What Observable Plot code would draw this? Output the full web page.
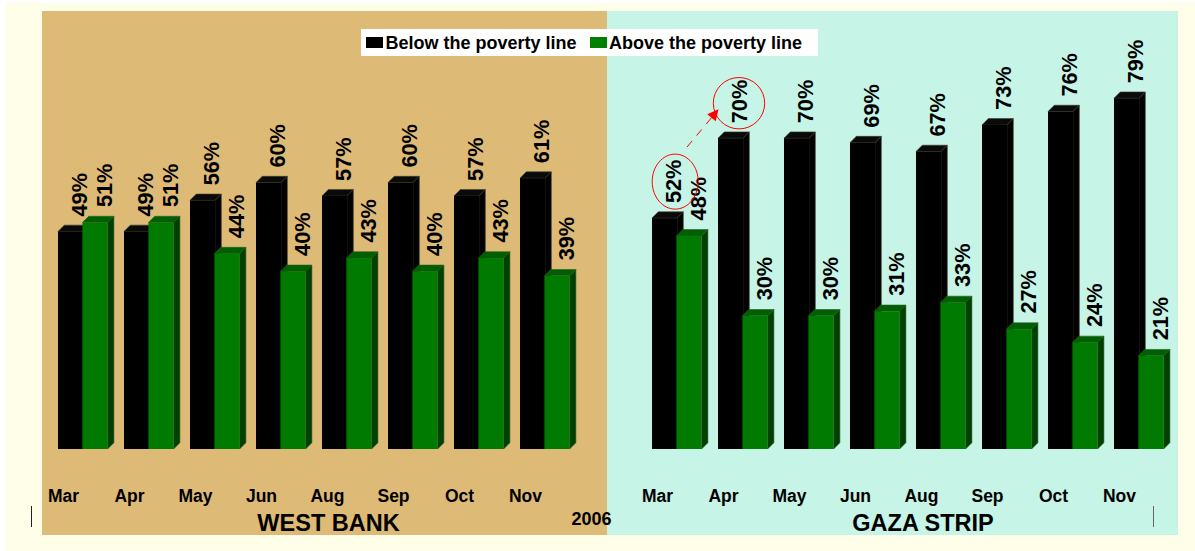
<!DOCTYPE html>
<html><head><meta charset="utf-8">
<script src="https://cdn.jsdelivr.net/npm/d3@7"></script>
<script src="https://cdn.jsdelivr.net/npm/@observablehq/plot@0.6"></script>
<style>
html,body{margin:0;padding:0;background:#fff;overflow:hidden}
#page{position:relative;width:1195px;height:551px;font-family:"Liberation Sans",Arial,sans-serif;font-weight:bold;color:#000}
#page>div{position:absolute}
#chart{left:0;top:0;width:1195px;height:551px}
.sw{width:17px;height:11px;top:8px}
.lt{top:4px;font-size:18px;line-height:21px;white-space:nowrap}
</style></head><body>
<div id="page">
<div style="left:6px;top:3px;width:1189px;height:548px;background:#FFFFE9"></div>
<div style="left:42px;top:11px;width:565px;height:524px;background:#DEBA77"></div>
<div style="left:607px;top:11px;width:571px;height:524px;background:#C6F4E7"></div>
<div style="left:31px;top:506px;width:1px;height:21px;background:#222"></div>
<div style="left:1153px;top:506px;width:1px;height:21px;background:#666"></div>
<div id="chart"></div>
<div style="left:361px;top:29px;width:457px;height:27px;background:#fff">
  <div class="sw" style="position:absolute;left:5px;background:#000"></div>
  <div class="lt" style="position:absolute;left:24.5px">Below the poverty line</div>
  <div class="sw" style="position:absolute;left:229px;background:#008000"></div>
  <div class="lt" style="position:absolute;left:248px">Above the poverty line</div>
</div>
</div>
<script>
const months = ["Mar","Apr","May","Jun","Aug","Sep","Oct","Nov"];
const westBelow = [49,49,56,60,57,60,57,61];
const westAbove = [51,51,44,40,43,40,43,39];
const gazaBelow = [52,70,70,69,67,73,76,79];
const gazaAbove = [48,30,30,31,33,27,24,21];
const regionNames = ["WEST BANK","GAZA STRIP"];
const yearLabel = "2006";

const westSlots = months.map(m => "W-" + m);
const gazaSlots = months.map(m => "G-" + m);
const slots = [...westSlots, "gap", ...gazaSlots];

const below = [...months.map((m,i)=>({slot:westSlots[i],v:westBelow[i]})), ...months.map((m,i)=>({slot:gazaSlots[i],v:gazaBelow[i]}))];
const above = [...months.map((m,i)=>({slot:westSlots[i],v:westAbove[i]})), ...months.map((m,i)=>({slot:gazaSlots[i],v:gazaAbove[i]}))];
const monthRows = [...months.map((m,i)=>({slot:westSlots[i],m})), ...months.map((m,i)=>({slot:gazaSlots[i],m}))];

const svgNS = "http://www.w3.org/2000/svg";
function extrude(depth, topFill, sideFill, edge){
  return function(index, scales, values, dims, ctx, next){
    const g = next(index, scales, values, dims, ctx);
    g.querySelectorAll("rect").forEach(r => {
      const x=+r.getAttribute("x"), y=+r.getAttribute("y"), w=+r.getAttribute("width"), h=+r.getAttribute("height");
      const add = (d, fill) => {
        const p = document.createElementNS(svgNS,"path");
        p.setAttribute("d", d); p.setAttribute("fill", fill);
        p.setAttribute("stroke", edge); p.setAttribute("stroke-width", 0.6);
        g.insertBefore(p, r);
      };
      add(`M${x},${y}L${x+depth},${y-depth}H${x+w+depth}L${x+w},${y}Z`, topFill);
      add(`M${x+w},${y}L${x+w+depth},${y-depth}V${y+h-depth}L${x+w},${y+h}Z`, sideFill);
    });
    return g;
  };
}
// hand-drawn annotation: offsets from the labelled bar
function ellipseSymbol(k){
  return {draw(c,size){
    const ry=Math.sqrt(size/Math.PI), rx=ry*k, m=0.5523;
    c.moveTo(rx,0);
    c.bezierCurveTo(rx,m*ry,m*rx,ry,0,ry);
    c.bezierCurveTo(-m*rx,ry,-rx,m*ry,-rx,0);
    c.bezierCurveTo(-rx,-m*ry,-m*rx,-ry,0,-ry);
    c.bezierCurveTo(m*rx,-ry,rx,-m*ry,rx,0);
    c.closePath();
  }};
}
function arrowRender(index,{x,y},values,dims,ctx){
  const bw=x.bandwidth?x.bandwidth():50;
  const x1=x("G-Mar")+bw/2+10, y1=y(68), x2=x("G-Apr")+bw/2-24.5, y2=y(76.5);
  const g=document.createElementNS(svgNS,"g");
  const l=document.createElementNS(svgNS,"path");
  const a=Math.atan2(y2-y1,x2-x1), hl=11, hw=5.5;
  const bx=x2-hl*Math.cos(a), by=y2-hl*Math.sin(a);
  l.setAttribute("d",`M${x1},${y1}L${bx},${by}`);
  l.setAttribute("stroke","#FF0000");l.setAttribute("stroke-width",1);l.setAttribute("stroke-dasharray","8 7");l.setAttribute("fill","none");
  g.appendChild(l);
  const h=document.createElementNS(svgNS,"path");
  h.setAttribute("d",`M${x2},${y2}L${bx-hw*Math.sin(a)},${by+hw*Math.cos(a)}L${bx+hw*Math.sin(a)},${by-hw*Math.cos(a)}Z`);
  h.setAttribute("fill","#FF0000");
  g.appendChild(h);
  return g;
}

const labelFont = {fontFamily:'"Liberation Sans",Arial,sans-serif',fontWeight:"bold",fill:"#000"};

const plot = Plot.plot({
  width:1195,height:551,margin:0,
  style:{background:"transparent"},
  x:{type:"band",domain:slots,range:[58,1180],paddingInner:16/66,paddingOuter:0,align:0,axis:null},
  y:{domain:[0,100],range:[449,5],axis:null},
  marks:[
    Plot.barY(below,{x:"slot",y:"v",fill:"#000",insetRight:25,render:extrude(6.3,"#0A0A0A","#020202","#3A3A2A")}),
    Plot.barY(above,{x:"slot",y:"v",fill:"#007A00",insetLeft:24.4,insetRight:0.4,render:extrude(6.3,"#005F00","#004000","#2A5A20")}),
    Plot.text(below,{x:"slot",y:"v",text:d=>d.v+"%",rotate:-90,textAnchor:"start",lineAnchor:"middle",dx:-3.5,dy:-15.5,fontSize:21.7,...labelFont}),
    Plot.text(above,{x:"slot",y:"v",text:d=>d.v+"%",rotate:-90,textAnchor:"start",lineAnchor:"middle",dx:21.5,dy:-16,fontSize:21.7,...labelFont}),
    Plot.text(monthRows,{x:"slot",text:"m",frameAnchor:"bottom",lineAnchor:"middle",dx:-20,dy:-55.5,fontSize:17.5,...labelFont}),
    Plot.text([regionNames[0]],{x:()=>"W-Jun",text:d=>d,frameAnchor:"bottom",lineAnchor:"middle",dx:47,dy:-28.5,fontSize:23.5,...labelFont}),
    Plot.text([regionNames[1]],{x:()=>"G-Jun",text:d=>d,frameAnchor:"bottom",lineAnchor:"middle",dx:47.5,dy:-28.5,fontSize:23.5,...labelFont}),
    Plot.text([yearLabel],{x:()=>"gap",text:d=>d,frameAnchor:"bottom",lineAnchor:"middle",dx:-20,dy:-32.5,fontSize:18,...labelFont}),
    Plot.dot([{slot:"G-Mar",v:52}],{x:"slot",y:"v",r:27.5,symbol:ellipseSymbol(23/27.5),stroke:"#FF0000",strokeWidth:1,fill:"none",dx:-2.3,dy:-37}),
    Plot.dot([{slot:"G-Apr",v:70}],{x:"slot",y:"v",r:25.7,stroke:"#FF0000",strokeWidth:1,fill:"none",dx:-4.5,dy:-35.5}),
    Plot.dot([0],{x:()=>"G-Mar",y:()=>68,r:0,render:arrowRender})
  ]
});
document.getElementById("chart").appendChild(plot);
</script>
</body></html>
